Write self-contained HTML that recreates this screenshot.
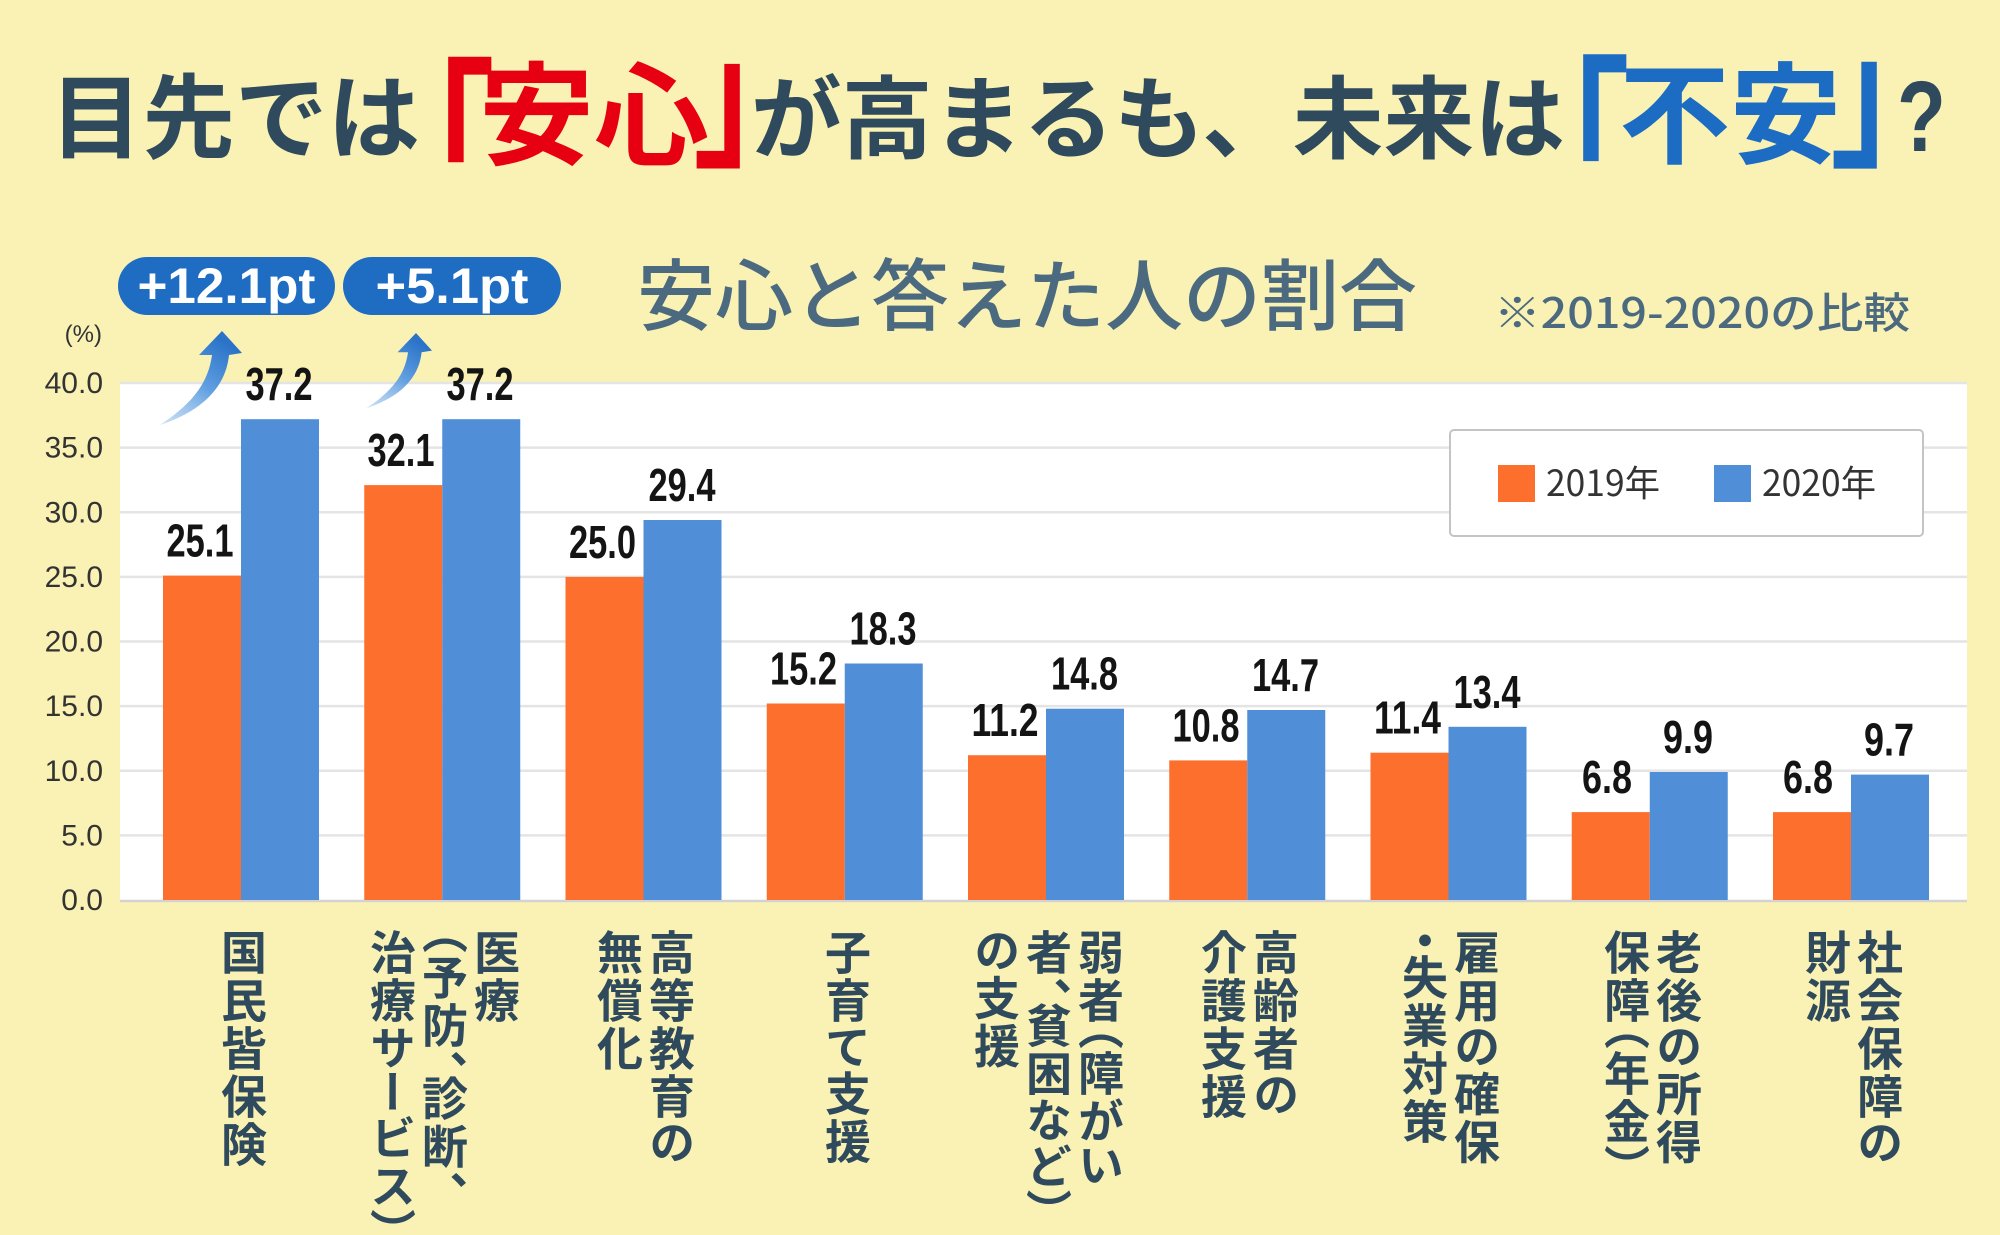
<!DOCTYPE html>
<html lang="ja">
<head>
<meta charset="utf-8">
<style>
  html,body{margin:0;padding:0;}
  body{width:2000px;height:1234px;overflow:hidden;background:#FAF2B5;position:relative;
       font-family:"Liberation Sans","Noto Sans CJK JP",sans-serif;}
  svg{position:absolute;left:0;top:0;}
  .lbl{position:absolute;top:929px;writing-mode:vertical-rl;
       font-family:"Liberation Sans","Noto Sans CJK JP",sans-serif;
       font-size:46px;font-weight:700;line-height:52px;letter-spacing:2px;
       color:#2e4a5c;font-feature-settings:"vpal";white-space:nowrap;}
</style>
</head>
<body>
<svg width="2000" height="1234" viewBox="0 0 2000 1234" xmlns="http://www.w3.org/2000/svg">
  <defs>
    <linearGradient id="ag" x1="0" y1="1" x2="0.6" y2="0">
      <stop offset="0" stop-color="#a9cdf0" stop-opacity="0.6"/>
      <stop offset="0.55" stop-color="#5f9ee0"/>
      <stop offset="1" stop-color="#2a73c8"/>
    </linearGradient>
  </defs>

  <!-- Title -->
  <g style="font-family:'Noto Sans CJK JP',sans-serif;font-weight:700">
    <text x="50" y="151" font-size="92" fill="#2e4a5c" textLength="370" lengthAdjust="spacingAndGlyphs">目先では</text>
    <g transform="translate(0,-0.66) scale(1,1.27)">
      <text x="365" y="156" font-size="130" fill="#e60012">「</text>
    </g>
    <text x="479" y="156" font-size="112" fill="#e60012" textLength="230" lengthAdjust="spacingAndGlyphs">安心</text>
    <g transform="translate(0,-43.1) scale(1,1.26)">
      <text x="693" y="156" font-size="130" fill="#e60012">」</text>
    </g>
    <text x="751" y="151" font-size="90" fill="#2e4a5c" textLength="814" lengthAdjust="spacingAndGlyphs">が高まるも、未来は</text>
    <g transform="translate(0,-2.6) scale(1,1.286)">
      <text x="1500" y="155" font-size="130" fill="#1d6cc4">「</text>
    </g>
    <text x="1619" y="155" font-size="110" fill="#1d6cc4" textLength="222" lengthAdjust="spacingAndGlyphs">不安</text>
    <g transform="translate(0,-46.05) scale(1,1.286)">
      <text x="1830" y="155" font-size="130" fill="#1d6cc4">」</text>
    </g>
  </g>
  <text transform="translate(1897,151) scale(0.8,1)" x="0" y="0" style="font-family:'Liberation Sans',sans-serif;font-weight:700;font-size:100px" fill="#2e4a5c">?</text>

  <!-- Subtitle -->
  <text x="637" y="324" font-size="78" font-weight="500" fill="#4b6a80" textLength="780" lengthAdjust="spacingAndGlyphs" style="font-family:'Noto Sans CJK JP',sans-serif">安心と答えた人の割合</text>
  <text x="1494" y="328" font-size="42" font-weight="500" fill="#4b6a80" textLength="416" lengthAdjust="spacingAndGlyphs" style="font-family:'Noto Sans CJK JP',sans-serif">※2019-2020の比較</text>

  <!-- Badges -->
  <rect x="118" y="257" width="217" height="58" rx="29" fill="#1f6dc2"/>
  <rect x="343" y="257" width="218" height="58" rx="29" fill="#1f6dc2"/>
  <text x="226.5" y="303" font-size="50" font-weight="700" fill="#ffffff" text-anchor="middle" textLength="178" lengthAdjust="spacingAndGlyphs" style="font-family:'Liberation Sans',sans-serif">+12.1pt</text>
  <text x="452" y="303" font-size="50" font-weight="700" fill="#ffffff" text-anchor="middle" textLength="153" lengthAdjust="spacingAndGlyphs" style="font-family:'Liberation Sans',sans-serif">+5.1pt</text>

  <!-- Plot area -->
  <rect x="120" y="383" width="1847" height="519" fill="#ffffff"/>
  <g stroke="#e4e4e4" stroke-width="2.5">
    <line x1="120" y1="383" x2="1967" y2="383"/>
    <line x1="120" y1="447.6" x2="1967" y2="447.6"/>
    <line x1="120" y1="512.3" x2="1967" y2="512.3"/>
    <line x1="120" y1="576.9" x2="1967" y2="576.9"/>
    <line x1="120" y1="641.5" x2="1967" y2="641.5"/>
    <line x1="120" y1="706.1" x2="1967" y2="706.1"/>
    <line x1="120" y1="770.8" x2="1967" y2="770.8"/>
    <line x1="120" y1="835.4" x2="1967" y2="835.4"/>
  </g>
  <line x1="120" y1="901" x2="1967" y2="901" stroke="#d2d2d2" stroke-width="2.5"/>

  <!-- Y tick labels -->
  <g style="font-family:'Liberation Sans',sans-serif" font-size="30" fill="#333" text-anchor="end">
    <text x="103" y="393">40.0</text>
    <text x="103" y="457.6">35.0</text>
    <text x="103" y="522.3">30.0</text>
    <text x="103" y="586.9">25.0</text>
    <text x="103" y="651.5">20.0</text>
    <text x="103" y="716.1">15.0</text>
    <text x="103" y="780.8">10.0</text>
    <text x="103" y="845.4">5.0</text>
    <text x="103" y="910">0.0</text>
  </g>
  <text x="102" y="342" style="font-family:'Liberation Sans',sans-serif" font-size="24" fill="#333" text-anchor="end">(%)</text>

  <!-- Bars 2019 (orange) -->
  <g fill="#fd6f2d">
    <rect x="163" y="575.6" width="78" height="324.4"/>
    <rect x="364.25" y="485.1" width="78" height="414.9"/>
    <rect x="565.5" y="576.9" width="78" height="323.1"/>
    <rect x="766.75" y="703.5" width="78" height="196.5"/>
    <rect x="968" y="755.2" width="78" height="144.8"/>
    <rect x="1169.25" y="760.4" width="78" height="139.6"/>
    <rect x="1370.5" y="752.7" width="78" height="147.3"/>
    <rect x="1571.75" y="812.1" width="78" height="87.9"/>
    <rect x="1773" y="812.1" width="78" height="87.9"/>
  </g>
  <!-- Bars 2020 (blue) -->
  <g fill="#508fd8">
    <rect x="241" y="419.2" width="78" height="480.8"/>
    <rect x="442.25" y="419.2" width="78" height="480.8"/>
    <rect x="643.5" y="520" width="78" height="380"/>
    <rect x="844.75" y="663.5" width="78" height="236.5"/>
    <rect x="1046" y="708.7" width="78" height="191.3"/>
    <rect x="1247.25" y="710" width="78" height="190"/>
    <rect x="1448.5" y="726.8" width="78" height="173.2"/>
    <rect x="1649.75" y="772" width="78" height="128"/>
    <rect x="1851" y="774.6" width="78" height="125.4"/>
  </g>

  <!-- Value labels -->
  <g style="font-family:'Liberation Sans',sans-serif" font-size="46" font-weight="700" fill="#141414" text-anchor="middle">
    <text x="200" y="556.6" textLength="67" lengthAdjust="spacingAndGlyphs">25.1</text>
    <text x="401" y="466.1" textLength="67" lengthAdjust="spacingAndGlyphs">32.1</text>
    <text x="602.5" y="557.9" textLength="67" lengthAdjust="spacingAndGlyphs">25.0</text>
    <text x="803.5" y="684.5" textLength="67" lengthAdjust="spacingAndGlyphs">15.2</text>
    <text x="1005" y="736.2" textLength="67" lengthAdjust="spacingAndGlyphs">11.2</text>
    <text x="1206" y="741.4" textLength="67" lengthAdjust="spacingAndGlyphs">10.8</text>
    <text x="1407.5" y="733.7" textLength="67" lengthAdjust="spacingAndGlyphs">11.4</text>
    <text x="1607" y="793.1" textLength="50" lengthAdjust="spacingAndGlyphs">6.8</text>
    <text x="1808" y="793.1" textLength="50" lengthAdjust="spacingAndGlyphs">6.8</text>

    <text x="279" y="400.2" textLength="67" lengthAdjust="spacingAndGlyphs">37.2</text>
    <text x="480" y="400.2" textLength="67" lengthAdjust="spacingAndGlyphs">37.2</text>
    <text x="682" y="501" textLength="67" lengthAdjust="spacingAndGlyphs">29.4</text>
    <text x="883" y="644.5" textLength="67" lengthAdjust="spacingAndGlyphs">18.3</text>
    <text x="1084.5" y="689.7" textLength="67" lengthAdjust="spacingAndGlyphs">14.8</text>
    <text x="1285.5" y="691" textLength="67" lengthAdjust="spacingAndGlyphs">14.7</text>
    <text x="1487" y="707.8" textLength="67" lengthAdjust="spacingAndGlyphs">13.4</text>
    <text x="1688" y="753" textLength="50" lengthAdjust="spacingAndGlyphs">9.9</text>
    <text x="1889" y="755.6" textLength="50" lengthAdjust="spacingAndGlyphs">9.7</text>
  </g>

  <!-- Arrows -->
  <path transform="translate(222,331)" fill="url(#ag)"
        d="M -23,24 L 0,0 L 20,22 L 7,24 C 4,54 -17,79 -62,94 C -32,74 -14,54 -10,24 Z"/>
  <path transform="translate(416,333) scale(0.8)" fill="url(#ag)"
        d="M -23,24 L 0,0 L 20,22 L 7,24 C 4,54 -17,79 -62,94 C -32,74 -14,54 -10,24 Z"/>

  <!-- Legend -->
  <rect x="1450" y="430" width="473" height="106" rx="4" fill="#ffffff" stroke="#c4c4c4" stroke-width="2"/>
  <rect x="1498" y="465" width="37" height="37" fill="#fd6f2d"/>
  <rect x="1714" y="465" width="37" height="37" fill="#508fd8"/>
  <text x="1546" y="496" font-size="36" fill="#333" textLength="114" lengthAdjust="spacingAndGlyphs" style="font-family:'Noto Sans CJK JP',sans-serif">2019年</text>
  <text x="1762" y="496" font-size="36" fill="#333" textLength="114" lengthAdjust="spacingAndGlyphs" style="font-family:'Noto Sans CJK JP',sans-serif">2020年</text>
</svg>

<!-- Category labels (vertical) -->
<div class="lbl" style="left:215px;">国民皆保険</div>
<div class="lbl" style="left:364px;">医療<br>（予防、診断、<br>治療サービス）</div>
<div class="lbl" style="left:591px;">高等教育の<br>無償化</div>
<div class="lbl" style="left:819px;">子育て支援</div>
<div class="lbl" style="left:968px;">弱者（障がい<br>者、貧困など）<br>の支援</div>
<div class="lbl" style="left:1195px;">高齢者の<br>介護支援</div>
<div class="lbl" style="left:1396px;">雇用の確保<br>・失業対策</div>
<div class="lbl" style="left:1598px;">老後の所得<br>保障（年金）</div>
<div class="lbl" style="left:1799px;">社会保障の<br>財源</div>
</body>
</html>
